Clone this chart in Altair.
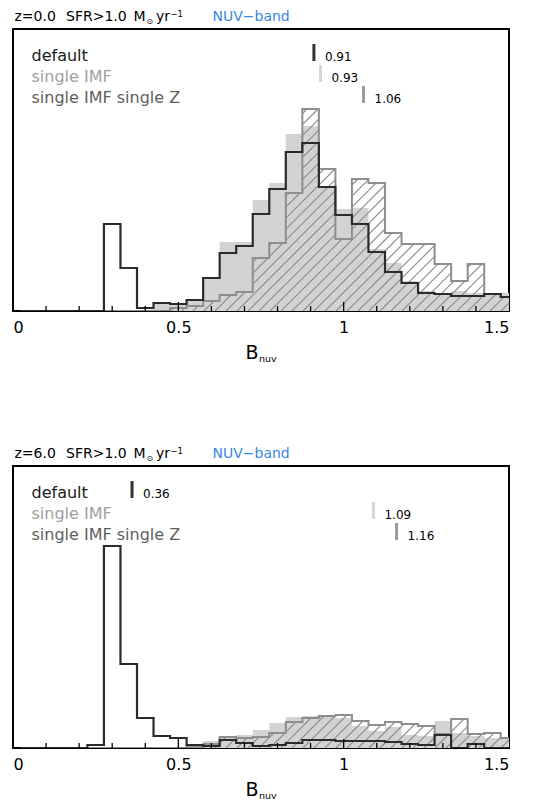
import altair as alt
import pandas as pd
import numpy as np

# ---------------- data ----------------
bin_centers = [0.05, 0.10, 0.15, 0.20, 0.25, 0.30, 0.35, 0.40, 0.45, 0.50,
               0.55, 0.60, 0.65, 0.70, 0.75, 0.80, 0.85, 0.90, 0.95, 1.00,
               1.05, 1.10, 1.15, 1.20, 1.25, 1.30, 1.35, 1.40, 1.45, 1.50]
bin_width = 0.05

# z = 0.0 panel (arbitrary units, counts per bin)
z0_default = [0, 0, 0, 0, 0, 87, 43, 3, 8, 7, 11, 33, 58, 65, 97, 122, 159, 168, 124, 96,
              87, 59, 39, 28, 18, 17, 15, 15, 17, 14]
z0_single_imf = [0, 0, 0, 1, 1, 0, 0, 0, 8, 8, 12, 32, 69, 69, 111, 128, 177, 185, 124, 102,
                 103, 62, 48, 30, 20, 18, 20, 18, 17, 18]
z0_single_imf_z = [0, 0, 0, 0, 0, 0, 0, 0, 0, 3, 5, 10, 16, 19, 53, 68, 118, 202, 142, 72,
                   132, 128, 78, 67, 67, 47, 30, 47, 17, 14]
z0_means = [0.91, 0.93, 1.06]

# z = 6.0 panel
z6_default = [0, 0, 0, 0, 3, 202, 84, 30, 12, 10, 3, 2, 8, 5, 2, 3, 5, 8, 8, 7,
              7, 7, 6, 4, 3, 13, 0, 4, 0, 0]
z6_single_imf = [0, 0, 0, 0, 0, 0, 0, 0, 1, 1, 2, 7, 12, 13, 18, 25, 31, 32, 32, 30,
                 22, 17, 21, 13, 12, 27, 15, 12, 10, 10]
z6_single_imf_z = [0, 0, 0, 0, 0, 0, 0, 0, 0, 0, 1, 4, 11, 10, 11, 15, 26, 30, 32, 33,
                   27, 23, 26, 24, 22, 14, 29, 14, 15, 10]
z6_means = [0.36, 1.09, 1.16]

series_names = ["default", "single IMF", "single IMF single Z"]
x_label_values = [0, 0.5, 1, 1.5]
minor_ticks = [0.1, 0.2, 0.3, 0.4, 0.6, 0.7, 0.8, 0.9, 1.1, 1.2, 1.3, 1.4]
major_ticks = [0.5, 1.0]

# ---------------- styling ----------------
W, H = 496, 282
YMAX = 282
FONT = "DejaVu Sans"
C_DEFAULT = "#2b2b2b"
C_FILL = "#d3d3d3"
C_HATCH_EDGE = "#8e8e8e"
C_HATCH = "#8a8a8a"
C_TXT = ["#1a1a1a", "#a0a0a0", "#5e5e5e"]
C_MEAN = ["#333333", "#d6d6d6", "#9a9a9a"]
BLUE = "#3b86e0"

xscale = alt.Scale(domain=[0, 1.5], nice=False, zero=False)
yscale = alt.Scale(domain=[0, YMAX], nice=False, zero=True)
xaxis = alt.Axis(values=x_label_values, format=".1~f", labelFontSize=16, labelFont=FONT,
                 labelColor="black", ticks=False, domain=False, grid=False, title=None,
                 labelPadding=8)


def step_df(values):
    edges = [c - bin_width / 2 for c in bin_centers] + [bin_centers[-1] + bin_width / 2]
    vals = list(values) + [values[-1]]
    return pd.DataFrame({"x": edges, "y": vals})


def hatch_df(values, spacing=11.0):
    ppx = W / 1.5
    ppy = H / YMAX
    segs = []
    for c0 in np.arange(-H, W + spacing, spacing):
        for cen, h in zip(bin_centers, values):
            if h <= 0:
                continue
            xa = max((cen - bin_width / 2) * ppx, 0)
            xb = min((cen + bin_width / 2) * ppx, W)
            hp = h * ppy
            x1 = max(xa, c0)
            x2 = min(xb, c0 + hp)
            if x2 > x1:
                segs.append({"x": x1 / ppx, "x2": x2 / ppx,
                             "y": (x1 - c0) / ppy, "y2": (x2 - c0) / ppy})
    return pd.DataFrame(segs)


def txt(s, x, y, size=14, color="black", align="left", baseline="middle"):
    return alt.Chart(pd.DataFrame({"t": [s]})).mark_text(
        font=FONT, fontSize=size, color=color, align=align, baseline=baseline
    ).encode(x=alt.value(x), y=alt.value(y), text="t:N")


def panel(default, single, singlez, means, zlabel):
    X = lambda: alt.X("x:Q", scale=xscale, axis=xaxis)
    Y = lambda: alt.Y("y:Q", scale=yscale, axis=None)

    fill = alt.Chart(step_df(single)).mark_area(
        interpolate="step-after", color=C_FILL, clip=True
    ).encode(x=X(), y=Y())

    hatch = alt.Chart(hatch_df(singlez)).mark_rule(
        color=C_HATCH, strokeWidth=1.1, clip=True
    ).encode(x=X(), x2="x2:Q", y=Y(), y2="y2:Q")

    hatch_edge = alt.Chart(step_df(singlez)).mark_line(
        interpolate="step-after", color=C_HATCH_EDGE, strokeWidth=2, clip=True
    ).encode(x=X(), y=Y())

    black = alt.Chart(step_df(default)).mark_line(
        interpolate="step-after", color=C_DEFAULT, strokeWidth=2.2, clip=True
    ).encode(x=X(), y=Y())

    tmin = alt.Chart(pd.DataFrame({"x": minor_ticks})).mark_rule(
        color="black", strokeWidth=1.3
    ).encode(x=X(), y=alt.value(H), y2=alt.value(H - 5))
    tmaj = alt.Chart(pd.DataFrame({"x": major_ticks})).mark_rule(
        color="black", strokeWidth=1.3
    ).encode(x=X(), y=alt.value(H), y2=alt.value(H - 9))

    layers = [fill, hatch, hatch_edge, black, tmin, tmaj]

    # legend rows and mean markers
    row_y = [27, 47.5, 69]
    tick_top = [15, 36, 57]
    for i, name in enumerate(series_names):
        layers.append(txt(name, 18.5, row_y[i], size=16, color=C_TXT[i]))
        mdf = pd.DataFrame({"x": [means[i]], "t": [f"{means[i]:.2f}"]})
        layers.append(alt.Chart(mdf).mark_rule(color=C_MEAN[i], strokeWidth=3).encode(
            x=X(), y=alt.value(tick_top[i]), y2=alt.value(tick_top[i] + 17)))
        layers.append(alt.Chart(mdf).mark_text(
            font=FONT, fontSize=12, color="black", align="left", baseline="middle", dx=11
        ).encode(x=X(), y=alt.value(row_y[i] + 1), text="t:N"))

    # header
    hy = -12
    layers += [
        txt(zlabel, 1.5, hy, size=14),
        txt("SFR>1.0", 53, hy, size=14),
        txt("M", 120.5, hy, size=14),
        txt("\u2299", 133.5, hy + 5, size=8),
        txt("yr", 143, hy, size=14),
        txt("\u22121", 157.5, hy - 3.5, size=8.5),
        txt("NUV\u2212band", 199.5, hy, size=14, color=BLUE),
    ]
    # axis title B_nuv
    layers += [
        txt("B", 239, H + 42, size=19, align="center"),
        txt("nuv", 246, H + 48, size=9.5),
    ]
    return alt.layer(*layers).properties(width=W, height=H)


p1 = panel(z0_default, z0_single_imf, z0_single_imf_z, z0_means, "z=0.0")
p2 = panel(z6_default, z6_single_imf, z6_single_imf_z, z6_means, "z=6.0")

chart = alt.vconcat(p1, p2, spacing=155, bounds="flush").properties(
    padding={"left": 4, "top": 0, "right": 0, "bottom": 0},
    background="white",
).configure_view(stroke="black", strokeWidth=2)

chart.save("out.html", embed_options={"renderer": "svg", "actions": False})
